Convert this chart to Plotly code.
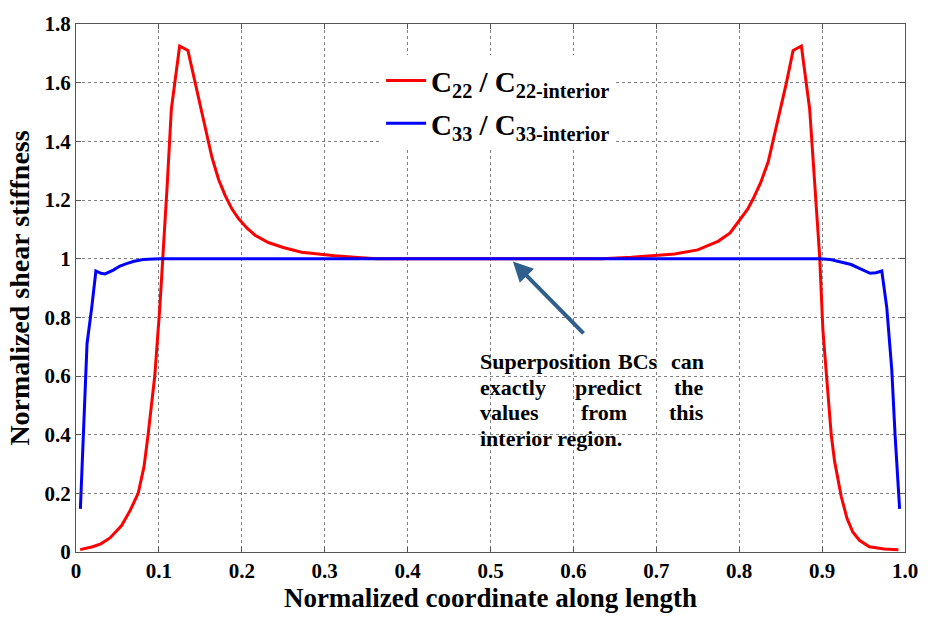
import plotly.graph_objects as go

# ---- data ----
red_x = [0.005, 0.02, 0.03, 0.041, 0.055, 0.065, 0.075, 0.082, 0.087, 0.095, 0.101, 0.105,
         0.110, 0.115, 0.125, 0.135, 0.149, 0.164, 0.172, 0.180, 0.188, 0.196, 0.206, 0.216,
         0.232, 0.250, 0.272, 0.300, 0.312, 0.340, 0.363, 0.400, 0.500, 0.600, 0.634, 0.670,
         0.700, 0.722, 0.750, 0.761, 0.775, 0.789, 0.801, 0.810, 0.817, 0.826, 0.835, 0.845,
         0.857, 0.865, 0.875, 0.885, 0.897, 0.901, 0.905, 0.911, 0.915, 0.923, 0.930, 0.937,
         0.945, 0.957, 0.975, 0.992]
red_y = [0.008, 0.018, 0.028, 0.048, 0.090, 0.140, 0.200, 0.290, 0.400, 0.600, 0.830, 1.000,
         1.250, 1.510, 1.725, 1.710, 1.530, 1.345, 1.270, 1.215, 1.170, 1.137, 1.105, 1.080,
         1.055, 1.038, 1.022, 1.013, 1.010, 1.004, 1.000, 1.000, 1.000, 1.000, 1.000, 1.005,
         1.010, 1.016, 1.030, 1.042, 1.060, 1.088, 1.133, 1.168, 1.205, 1.260, 1.330, 1.450,
         1.600, 1.710, 1.725, 1.510, 1.010, 0.755, 0.600, 0.400, 0.310, 0.190, 0.115, 0.068,
         0.040, 0.018, 0.010, 0.008]

blue_x = [0.0053, 0.0133, 0.019, 0.024, 0.030, 0.035, 0.045, 0.053, 0.061, 0.070, 0.081, 0.100,
          0.500, 0.897, 0.910, 0.921, 0.935, 0.945, 0.958, 0.965, 0.972, 0.978, 0.984, 0.988,
          0.9935]
blue_y = [0.147, 0.710, 0.834, 0.958, 0.950, 0.948, 0.961, 0.975, 0.983, 0.991, 0.997, 1.000,
          1.000, 1.000, 0.997, 0.990, 0.980, 0.967, 0.950, 0.952, 0.958, 0.834, 0.623, 0.400,
          0.147]

x_ticks = [0, 0.1, 0.2, 0.3, 0.4, 0.5, 0.6, 0.7, 0.8, 0.9, 1.0]
x_ticktext = ["0", "0.1", "0.2", "0.3", "0.4", "0.5", "0.6", "0.7", "0.8", "0.9", "1.0"]
y_ticks = [0, 0.2, 0.4, 0.6, 0.8, 1.0, 1.2, 1.4, 1.6, 1.8]
y_ticktext = ["0", "0.2", "0.4", "0.6", "0.8", "1", "1.2", "1.4", "1.6", "1.8"]

red_name = "<b>C<sub>22</sub> / C<sub>22-interior</sub></b>"
blue_name = "<b>C<sub>33</sub> / C<sub>33-interior</sub></b>"

# justified note text
note_lines = [
    ["Superposition", "BCs", "can"],
    ["exactly", "predict", "the"],
    ["values", "from", "this"],
    ["interior region."],
]
note_line_y = [0.648, 0.561, 0.474, 0.386]
note_left, note_right = 0.485, 0.7595
note_mid = [0.6775, 0.642, 0.637, None]

arrow_tail = (0.614, 0.74)
arrow_head = (0.527, 0.99)

FONT = "Liberation Serif"
NOTE_FONT = dict(family=FONT, size=22, color="black")

fig = go.Figure()
fig.add_trace(go.Scatter(x=red_x, y=red_y, mode="lines", name=red_name, legendgroup="a",
                         line=dict(color="#ff0000", width=3)))
fig.add_trace(go.Scatter(x=blue_x, y=blue_y, mode="lines", name=blue_name, legendgroup="b",
                         line=dict(color="#0000ff", width=3)))

for words, yy, mid in zip(note_lines, note_line_y, note_mid):
    placements = [(words[0], note_left, "left")]
    if len(words) == 3:
        placements += [(words[1], mid, "center"), (words[2], note_right, "right")]
    for w, xx, anc in placements:
        fig.add_annotation(x=xx, y=yy, xref="x", yref="y", text="<b>%s</b>" % w,
                           showarrow=False, xanchor=anc, yanchor="middle",
                           font=NOTE_FONT)

fig.add_annotation(x=arrow_head[0], y=arrow_head[1], ax=arrow_tail[0], ay=arrow_tail[1],
                   xref="x", yref="y", axref="x", ayref="y", text="", showarrow=True,
                   arrowhead=2, arrowsize=1, arrowwidth=4, arrowcolor="#2f5f8c")

axis_common = dict(showline=True, linecolor="#555555", linewidth=1, mirror="ticks",
                   ticks="inside", ticklen=5, tickcolor="#555555",
                   showgrid=True, gridcolor="#808080", griddash="dot", gridwidth=1,
                   zeroline=False,
                   tickfont=dict(family=FONT, size=21, color="black"))

fig.update_layout(
    width=930, height=618,
    margin=dict(l=76, r=17, t=16, b=61),
    paper_bgcolor="white", plot_bgcolor="white",
    font=dict(family=FONT, color="black"),
    showlegend=True,
    legend=dict(x=0.368, y=0.941, xanchor="left", yanchor="top",
                bgcolor="rgba(255,255,255,1)", borderwidth=0,
                font=dict(family=FONT, size=29, color="black"),
                itemwidth=40, tracegroupgap=2),
    xaxis=dict(range=[0, 1], tickvals=x_ticks, ticktext=["<b>%s</b>" % t for t in x_ticktext],
               title=dict(text="<b>Normalized coordinate along length</b>",
                          font=dict(family=FONT, size=27, color="black"), standoff=4),
               **axis_common),
    yaxis=dict(range=[0, 1.8], tickvals=y_ticks, ticktext=["<b>%s</b>" % t for t in y_ticktext],
               title=dict(text="<b>Normalized shear stiffness</b>",
                          font=dict(family=FONT, size=28, color="black"), standoff=6),
               **axis_common),
)

fig.write_html("out.html")
